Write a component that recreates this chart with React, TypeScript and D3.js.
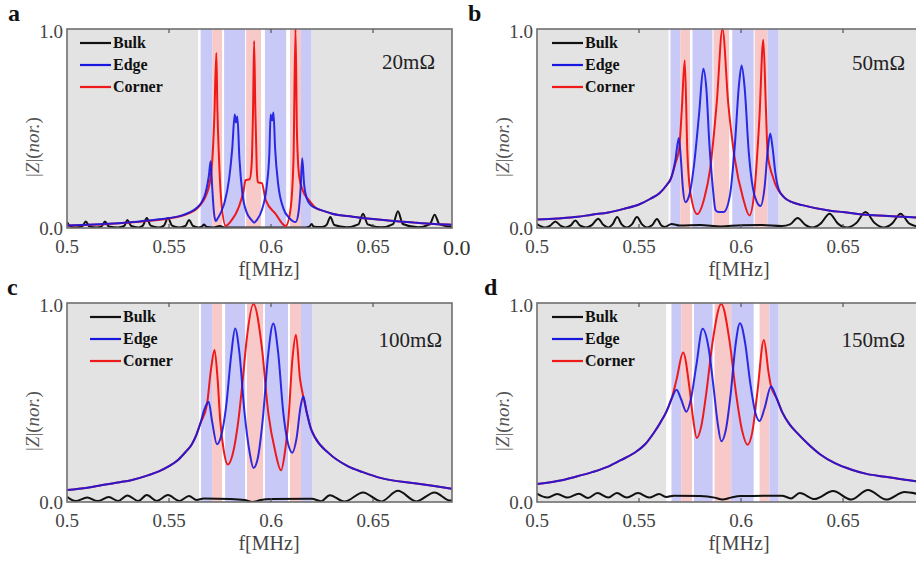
import * as d3 from 'd3';

type Pt = [number, number];
type Band = [number, number, 'edge' | 'corner'];

const panelLetters = ['a', 'b', 'c', 'd'];
const resistances = ['20mΩ', '50mΩ', '100mΩ', '150mΩ'];
const seriesNames = ['Bulk', 'Edge', 'Corner'];
const freqTicks = [0.5, 0.55, 0.6, 0.65];
const zTicks = [0, 1];

// panel a, 20 mOhm
const bulkA: Pt[] = [
  [0.5, 0.03], [0.5015, 0.008], [0.504, 0.003], [0.5075, 0.008], [0.5092, 0.033], [0.511, 0.008],
  [0.5145, 0.003], [0.517, 0.008], [0.5186, 0.033], [0.5205, 0.008], [0.525, 0.003], [0.528, 0.01],
  [0.5296, 0.04], [0.5315, 0.01], [0.535, 0.003], [0.5372, 0.012], [0.5391, 0.05], [0.541, 0.012],
  [0.545, 0.003], [0.5475, 0.012], [0.5495, 0.05], [0.5515, 0.012], [0.555, 0.003], [0.558, 0.01],
  [0.5598, 0.04], [0.5618, 0.01], [0.5645, 0.003], [0.566, 0.006], [0.5672, 0.017], [0.5685, 0.005],
  [0.572, 0.003], [0.5749, 0.01], [0.577, 0.003], [0.6, 0.003], [0.617, 0.003], [0.6187, 0.006],
  [0.6199, 0.02], [0.621, 0.006], [0.625, 0.005], [0.6272, 0.015], [0.6291, 0.055], [0.631, 0.015],
  [0.637, 0.004], [0.6428, 0.018], [0.6451, 0.072], [0.6474, 0.018], [0.654, 0.004], [0.6598, 0.02],
  [0.6622, 0.084], [0.6646, 0.02], [0.672, 0.004], [0.6778, 0.018], [0.6802, 0.067], [0.6826, 0.018],
  [0.6887, 0.005],
];
const edgeA: Pt[] = [
  [0.5, 0.012], [0.51, 0.016], [0.52, 0.021], [0.53, 0.028], [0.54, 0.038], [0.55, 0.05],
  [0.556, 0.062], [0.56, 0.078], [0.5635, 0.1], [0.566, 0.13], [0.568, 0.18], [0.5695, 0.26],
  [0.5704, 0.335], [0.5712, 0.2], [0.572, 0.08], [0.5729, 0.035], [0.574, 0.05], [0.577, 0.12],
  [0.5795, 0.25], [0.581, 0.4], [0.5822, 0.57], [0.5828, 0.53], [0.5835, 0.56], [0.5845, 0.35],
  [0.586, 0.17], [0.588, 0.08], [0.5905, 0.04], [0.5917, 0.027], [0.593, 0.04], [0.5955, 0.09],
  [0.598, 0.22], [0.5992, 0.38], [0.5998, 0.57], [0.6005, 0.54], [0.6012, 0.58], [0.602, 0.4],
  [0.6035, 0.22], [0.606, 0.1], [0.609, 0.05], [0.6121, 0.03], [0.6135, 0.08], [0.6145, 0.2],
  [0.6153, 0.35], [0.6162, 0.22], [0.6175, 0.15], [0.6195, 0.115], [0.622, 0.1], [0.626, 0.085],
  [0.63, 0.072], [0.64, 0.057], [0.65, 0.045], [0.66, 0.035], [0.67, 0.027], [0.68, 0.02], [0.6887, 0.016],
];
const cornerA: Pt[] = [
  [0.5, 0.012], [0.52, 0.02], [0.54, 0.036], [0.55, 0.048], [0.556, 0.06], [0.56, 0.075],
  [0.5635, 0.095], [0.566, 0.125], [0.568, 0.16], [0.5703, 0.25], [0.5712, 0.34], [0.5722, 0.55],
  [0.5732, 0.88], [0.5737, 0.6], [0.5745, 0.35], [0.5755, 0.15], [0.5778, 0.01], [0.58, 0.03],
  [0.5843, 0.108], [0.5866, 0.19], [0.5875, 0.24], [0.5895, 0.245], [0.5905, 0.32], [0.5912, 0.6],
  [0.5917, 0.94], [0.5923, 0.6], [0.593, 0.3], [0.5935, 0.23], [0.5955, 0.225], [0.5974, 0.14],
  [0.6023, 0.07], [0.6072, 0.01], [0.6095, 0.09], [0.611, 0.34], [0.612, 1.0], [0.6127, 0.48],
  [0.6138, 0.26], [0.6155, 0.19], [0.6186, 0.14], [0.622, 0.1], [0.626, 0.085], [0.63, 0.072],
  [0.64, 0.057], [0.65, 0.045], [0.66, 0.035], [0.67, 0.027], [0.68, 0.02], [0.6887, 0.016],
];
const bandsA: Band[] = [
  [0.5655, 0.5712, 'edge'], [0.5712, 0.576, 'corner'], [0.577, 0.5873, 'edge'], [0.5878, 0.5951, 'corner'],
  [0.597, 0.6074, 'edge'], [0.6093, 0.6147, 'corner'], [0.6147, 0.6196, 'edge'],
];

// panel b, 50 mOhm
const bulkB: Pt[] = [
  [0.5, 0.02], [0.502, 0.008], [0.504, 0.003], [0.5065, 0.012], [0.509, 0.033], [0.5115, 0.012],
  [0.514, 0.003], [0.5165, 0.013], [0.5188, 0.038], [0.521, 0.013], [0.524, 0.003], [0.527, 0.016],
  [0.53, 0.047], [0.5325, 0.016], [0.535, 0.003], [0.537, 0.018], [0.5393, 0.055], [0.5415, 0.018],
  [0.544, 0.003], [0.5465, 0.018], [0.549, 0.055], [0.5515, 0.018], [0.554, 0.003], [0.5565, 0.015],
  [0.5588, 0.045], [0.561, 0.012], [0.5625, 0.005], [0.566, 0.02], [0.57, 0.012], [0.58, 0.015],
  [0.59, 0.008], [0.6, 0.014], [0.61, 0.015], [0.62, 0.01], [0.624, 0.018], [0.6277, 0.05],
  [0.6315, 0.016], [0.635, 0.002], [0.639, 0.022], [0.6434, 0.072], [0.6475, 0.022], [0.652, 0.002],
  [0.6565, 0.025], [0.661, 0.08], [0.6655, 0.025], [0.67, 0.002], [0.674, 0.022], [0.6782, 0.072],
  [0.6825, 0.022], [0.6887, 0.003],
];
const edgeB: Pt[] = [
  [0.5, 0.043], [0.51, 0.048], [0.52, 0.056], [0.5268, 0.067], [0.535, 0.078], [0.5428, 0.097],
  [0.55, 0.118], [0.5556, 0.147], [0.56, 0.175], [0.5635, 0.215], [0.5657, 0.25], [0.5678, 0.34],
  [0.5695, 0.452], [0.5705, 0.35], [0.5715, 0.2], [0.5727, 0.13], [0.5745, 0.16], [0.577, 0.32],
  [0.5795, 0.58], [0.5815, 0.8], [0.583, 0.7], [0.5845, 0.42], [0.5862, 0.2], [0.5875, 0.09],
  [0.589, 0.08], [0.5915, 0.08], [0.5945, 0.16], [0.597, 0.42], [0.599, 0.72], [0.6003, 0.816],
  [0.6018, 0.7], [0.6038, 0.38], [0.6058, 0.2], [0.6078, 0.13], [0.6095, 0.11], [0.6115, 0.2],
  [0.613, 0.38], [0.6143, 0.475], [0.6155, 0.4], [0.6168, 0.28], [0.6183, 0.2], [0.621, 0.155],
  [0.625, 0.13], [0.63, 0.115], [0.6437, 0.087], [0.65, 0.08], [0.663, 0.065], [0.67, 0.062],
  [0.682, 0.055], [0.6887, 0.05],
];
const cornerB: Pt[] = [
  [0.5, 0.043], [0.51, 0.048], [0.52, 0.056], [0.5268, 0.067], [0.535, 0.078], [0.5428, 0.097],
  [0.55, 0.118], [0.5556, 0.147], [0.56, 0.175], [0.5635, 0.215], [0.5657, 0.25], [0.568, 0.33],
  [0.5697, 0.4], [0.571, 0.6], [0.5724, 0.843], [0.5737, 0.38], [0.5753, 0.17], [0.5785, 0.07],
  [0.582, 0.15], [0.5849, 0.3], [0.5881, 0.63], [0.5909, 1.0], [0.5937, 0.63], [0.5969, 0.35],
  [0.601, 0.15], [0.6041, 0.063], [0.6065, 0.18], [0.609, 0.55], [0.6109, 0.946], [0.6122, 0.6],
  [0.613, 0.38], [0.6143, 0.3], [0.6155, 0.26], [0.6168, 0.22], [0.6183, 0.19], [0.621, 0.155],
  [0.625, 0.13], [0.63, 0.115], [0.6437, 0.087], [0.65, 0.08], [0.663, 0.065], [0.67, 0.062],
  [0.682, 0.055], [0.6887, 0.05],
];
const bandsB: Band[] = [
  [0.5654, 0.5702, 'edge'], [0.5702, 0.575, 'corner'], [0.5762, 0.586, 'edge'], [0.5865, 0.5942, 'corner'],
  [0.5957, 0.6062, 'edge'], [0.6067, 0.613, 'corner'], [0.613, 0.6183, 'edge'],
];

// panel c, 100 mOhm
const bulkC: Pt[] = [
  [0.5, 0.026], [0.5042, 0.005], [0.5099, 0.022], [0.515, 0.005], [0.5205, 0.025], [0.525, 0.005],
  [0.5296, 0.033], [0.535, 0.005], [0.5391, 0.035], [0.544, 0.005], [0.5495, 0.035], [0.555, 0.005],
  [0.5598, 0.03], [0.5635, 0.01], [0.567, 0.017], [0.58, 0.015], [0.587, 0.01], [0.591, 0.0],
  [0.595, 0.01], [0.6, 0.015], [0.62, 0.016], [0.6245, 0.004], [0.6288, 0.034], [0.636, 0.002],
  [0.6451, 0.048], [0.654, 0.003], [0.6622, 0.056], [0.6712, 0.003], [0.6801, 0.048], [0.6874, 0.008],
  [0.6887, 0.007],
];
const edgeC: Pt[] = [
  [0.5, 0.06], [0.51, 0.072], [0.5156, 0.082], [0.525, 0.098], [0.5319, 0.111], [0.54, 0.135],
  [0.545, 0.154], [0.55, 0.18], [0.5547, 0.214], [0.558, 0.25], [0.5612, 0.29], [0.5635, 0.34],
  [0.5653, 0.393], [0.5675, 0.47], [0.5694, 0.504], [0.5712, 0.4], [0.5735, 0.29], [0.5755, 0.33],
  [0.578, 0.48], [0.5805, 0.74], [0.5824, 0.872], [0.5845, 0.75], [0.587, 0.45], [0.5895, 0.25],
  [0.5914, 0.171], [0.5935, 0.22], [0.596, 0.42], [0.5985, 0.73], [0.6011, 0.897], [0.6035, 0.75],
  [0.606, 0.45], [0.6082, 0.3], [0.6104, 0.248], [0.6125, 0.32], [0.6145, 0.48], [0.6158, 0.53],
  [0.6175, 0.45], [0.6195, 0.37], [0.6215, 0.325], [0.628, 0.248], [0.6378, 0.179], [0.645, 0.15],
  [0.654, 0.12], [0.6703, 0.094], [0.68, 0.08], [0.6887, 0.066],
];
const cornerC: Pt[] = [
  [0.5, 0.06], [0.51, 0.072], [0.5156, 0.082], [0.525, 0.098], [0.5319, 0.111], [0.54, 0.135],
  [0.545, 0.154], [0.55, 0.18], [0.5547, 0.214], [0.558, 0.25], [0.5612, 0.29], [0.5635, 0.34],
  [0.5653, 0.393], [0.5686, 0.49], [0.5705, 0.66], [0.5723, 0.764], [0.5738, 0.62], [0.5751, 0.41],
  [0.5768, 0.26], [0.5788, 0.188], [0.5812, 0.24], [0.584, 0.41], [0.5862, 0.62], [0.5881, 0.82],
  [0.5914, 0.995], [0.5954, 0.786], [0.5987, 0.444], [0.602, 0.256], [0.6049, 0.159], [0.6068, 0.25],
  [0.6085, 0.41], [0.6105, 0.72], [0.6122, 0.841], [0.6142, 0.62], [0.6158, 0.53], [0.6175, 0.45],
  [0.6195, 0.37], [0.6215, 0.325], [0.628, 0.248], [0.6378, 0.179], [0.645, 0.15], [0.654, 0.12],
  [0.6703, 0.094], [0.68, 0.08], [0.6887, 0.066],
];
const bandsC: Band[] = [
  [0.5657, 0.5711, 'edge'], [0.5711, 0.576, 'corner'], [0.5775, 0.5873, 'edge'], [0.5882, 0.5961, 'corner'],
  [0.597, 0.6083, 'edge'], [0.6093, 0.6147, 'corner'], [0.6147, 0.6201, 'edge'],
];

// panel d, 150 mOhm
const bulkD: Pt[] = [
  [0.5, 0.042], [0.505, 0.022], [0.5099, 0.04], [0.515, 0.022], [0.5205, 0.042], [0.525, 0.02],
  [0.5296, 0.045], [0.535, 0.022], [0.5391, 0.045], [0.544, 0.022], [0.5495, 0.045], [0.555, 0.022],
  [0.5598, 0.04], [0.5635, 0.025], [0.567, 0.032], [0.58, 0.03], [0.587, 0.022], [0.591, 0.012],
  [0.595, 0.022], [0.6, 0.03], [0.62, 0.032], [0.6245, 0.018], [0.6288, 0.045], [0.636, 0.015],
  [0.6451, 0.055], [0.654, 0.012], [0.6622, 0.06], [0.6712, 0.012], [0.6801, 0.05], [0.6887, 0.035],
];
const edgeD: Pt[] = [
  [0.5, 0.09], [0.51, 0.105], [0.5189, 0.127], [0.527, 0.15], [0.5348, 0.178], [0.541, 0.21],
  [0.5476, 0.246], [0.553, 0.29], [0.5572, 0.347], [0.5605, 0.4], [0.5636, 0.458], [0.566, 0.52],
  [0.5684, 0.564], [0.5705, 0.52], [0.5732, 0.454], [0.5755, 0.52], [0.578, 0.68], [0.5812, 0.87],
  [0.584, 0.78], [0.5865, 0.58], [0.5885, 0.4], [0.5903, 0.305], [0.5925, 0.36], [0.595, 0.55],
  [0.5972, 0.78], [0.5995, 0.898], [0.602, 0.8], [0.6045, 0.6], [0.607, 0.45], [0.6091, 0.407],
  [0.6115, 0.47], [0.6147, 0.581], [0.6175, 0.52], [0.6203, 0.449], [0.6238, 0.39], [0.6275, 0.347],
  [0.633, 0.29], [0.6387, 0.24], [0.646, 0.195], [0.6546, 0.161], [0.662, 0.14], [0.6706, 0.127],
  [0.6815, 0.11], [0.6887, 0.1],
];
const cornerD: Pt[] = [
  [0.5, 0.09], [0.51, 0.105], [0.5189, 0.127], [0.527, 0.15], [0.5348, 0.178], [0.541, 0.21],
  [0.5476, 0.246], [0.553, 0.29], [0.5572, 0.347], [0.5605, 0.4], [0.5636, 0.458], [0.566, 0.52],
  [0.5685, 0.62], [0.5716, 0.751], [0.5748, 0.568], [0.5765, 0.42], [0.5783, 0.322], [0.5805, 0.38],
  [0.583, 0.55], [0.586, 0.8], [0.5903, 0.995], [0.5945, 0.8], [0.5975, 0.55], [0.6005, 0.36],
  [0.6032, 0.288], [0.6055, 0.35], [0.608, 0.55], [0.6112, 0.814], [0.6135, 0.65], [0.6147, 0.581],
  [0.6175, 0.52], [0.6203, 0.449], [0.6238, 0.39], [0.6275, 0.347], [0.633, 0.29], [0.6387, 0.24],
  [0.646, 0.195], [0.6546, 0.161], [0.662, 0.14], [0.6706, 0.127], [0.6815, 0.11], [0.6887, 0.1],
];
const bandsD: Band[] = [
  [0.5659, 0.5707, 'edge'], [0.5707, 0.576, 'corner'], [0.5769, 0.5861, 'edge'], [0.587, 0.5952, 'corner'],
  [0.5952, 0.6062, 'edge'], [0.6091, 0.6139, 'corner'], [0.6139, 0.6183, 'edge'],
];

// left edge of the white strip behind the bands
const whiteStart = [0.5643, 0.5645, 0.5647, 0.5633];

const panelData = [
  { bulk: bulkA, edge: edgeA, corner: cornerA, bands: bandsA },
  { bulk: bulkB, edge: edgeB, corner: cornerB, bands: bandsB },
  { bulk: bulkC, edge: edgeC, corner: cornerC, bands: bandsC },
  { bulk: bulkD, edge: edgeD, corner: cornerD, bands: bandsD },
];

const CHART = {
  width: 916,
  height: 563,
  plotW: 385,
  plotH: 199,
  fMax: 0.6887,
  font: '"Liberation Serif", "Times New Roman", serif',
  colors: { bulk: '#111111', edge: '#1717e0', corner: '#ee1a1a' },
  bands: { edge: '#c9c9f8', corner: '#f8c9c9' },
};

const PANEL_POS = [
  { left: 67, top: 29, letterX: 8, legendX: 13, resX: 368, resY: 40 },
  { left: 537, top: 29, letterX: 468, legendX: 15, resX: 368, resY: 41 },
  { left: 67, top: 303, letterX: 7, legendX: 23, resX: 375, resY: 44 },
  { left: 537, top: 303, letterX: 484, legendX: 15, resX: 368, resY: 44 },
];

function Panel({ idx }: { idx: number }) {
  const pos = PANEL_POS[idx];
  const d = panelData[idx];
  const w = CHART.plotW;
  const h = CHART.plotH;

  const xScale = d3.scaleLinear().domain([0.5, CHART.fMax]).range([0, w]);
  const yScale = d3.scaleLinear().domain([0, 1]).range([h, 0]);

  const line = d3.line<Pt>()
    .x((p) => xScale(p[0]))
    .y((p) => yScale(p[1]))
    .curve(d3.curveMonotoneX);

  const lastBand = d.bands[d.bands.length - 1][1];
  const clipId = `clip-${idx}`;
  const legendKeys: ('bulk' | 'edge' | 'corner')[] = ['bulk', 'edge', 'corner'];

  return (
    <g>
      <text x={pos.letterX} y={pos.top - 8} fontFamily={CHART.font} fontWeight="bold" fontSize={24} fill="#111">
        {panelLetters[idx]}
      </text>
      <g transform={`translate(${pos.left},${pos.top})`}>
        <defs>
          <clipPath id={clipId}>
            <rect x={0} y={-1} width={w} height={h + 1} />
          </clipPath>
        </defs>
        <rect x={0} y={0} width={w} height={h} fill="#e3e3e3" />
        <rect x={xScale(whiteStart[idx])} y={0} width={xScale(lastBand) - xScale(whiteStart[idx])} height={h} fill="#ffffff" />
        {d.bands.map((b, i) => (
          <rect key={i} x={xScale(b[0])} y={0} width={xScale(b[1]) - xScale(b[0])} height={h} fill={CHART.bands[b[2]]} />
        ))}

        <g clipPath={`url(#${clipId})`} fill="none" strokeWidth={2} strokeLinejoin="round">
          <path d={line(d.bulk) ?? ''} stroke={CHART.colors.bulk} />
          <path d={line(d.corner) ?? ''} stroke={CHART.colors.corner} />
          <path d={line(d.edge) ?? ''} stroke={CHART.colors.edge} strokeOpacity={0.9} />
        </g>

        {/* frame and inward ticks */}
        <rect x={0} y={0} width={w} height={h} fill="none" stroke="#6f6f6f" strokeWidth={1.6} />
        {freqTicks.slice(1).map((t) => (
          <g key={t}>
            <line x1={xScale(t)} x2={xScale(t)} y1={0} y2={4} stroke="#555" strokeWidth={1.2} />
            <line x1={xScale(t)} x2={xScale(t)} y1={h} y2={h - 4} stroke="#555" strokeWidth={1.2} />
          </g>
        ))}

        {freqTicks.map((t) => (
          <text key={t} x={xScale(t)} y={h + 25} textAnchor="middle" fontFamily={CHART.font} fontSize={19} fill="#444">
            {String(t)}
          </text>
        ))}
        {zTicks.map((t) => (
          <text key={t} x={-4} y={yScale(t) + (t === 0 ? 7 : 9)} textAnchor="end" fontFamily={CHART.font} fontSize={19} fill="#444">
            {t.toFixed(1)}
          </text>
        ))}

        <text x={202} y={h + 48} textAnchor="middle" fontFamily={CHART.font} fontSize={20} fill="#444">
          f[MHz]
        </text>
        <text transform={`translate(-28,${118}) rotate(-90)`} textAnchor="middle" fontFamily={CHART.font} fontSize={19} fill="#555">
          |<tspan fontStyle="italic">Z</tspan>|(<tspan fontStyle="italic">nor.</tspan>)
        </text>

        {legendKeys.map((k, i) => {
          const ly = 14 + i * 22;
          return (
            <g key={k}>
              <line x1={pos.legendX} x2={pos.legendX + 31} y1={ly} y2={ly} stroke={CHART.colors[k]} strokeWidth={2.2} />
              <text x={pos.legendX + 33} y={ly + 5} fontFamily={CHART.font} fontWeight="bold" fontSize={16} fill="#111">
                {seriesNames[i]}
              </text>
            </g>
          );
        })}

        <text x={pos.resX} y={pos.resY} textAnchor="end" fontFamily={CHART.font} fontSize={21} fill="#222">
          {resistances[idx]}
        </text>
      </g>
    </g>
  );
}

export default function App() {
  return (
    <svg
      width={CHART.width}
      height={CHART.height}
      style={{ position: 'absolute', left: 0, top: 0, background: '#fff' }}
    >
      {panelData.map((_, i) => (
        <Panel key={i} idx={i} />
      ))}
      <text x={443} y={255} fontFamily={CHART.font} fontSize={22} fill="#333">0.0</text>
    </svg>
  );
}
